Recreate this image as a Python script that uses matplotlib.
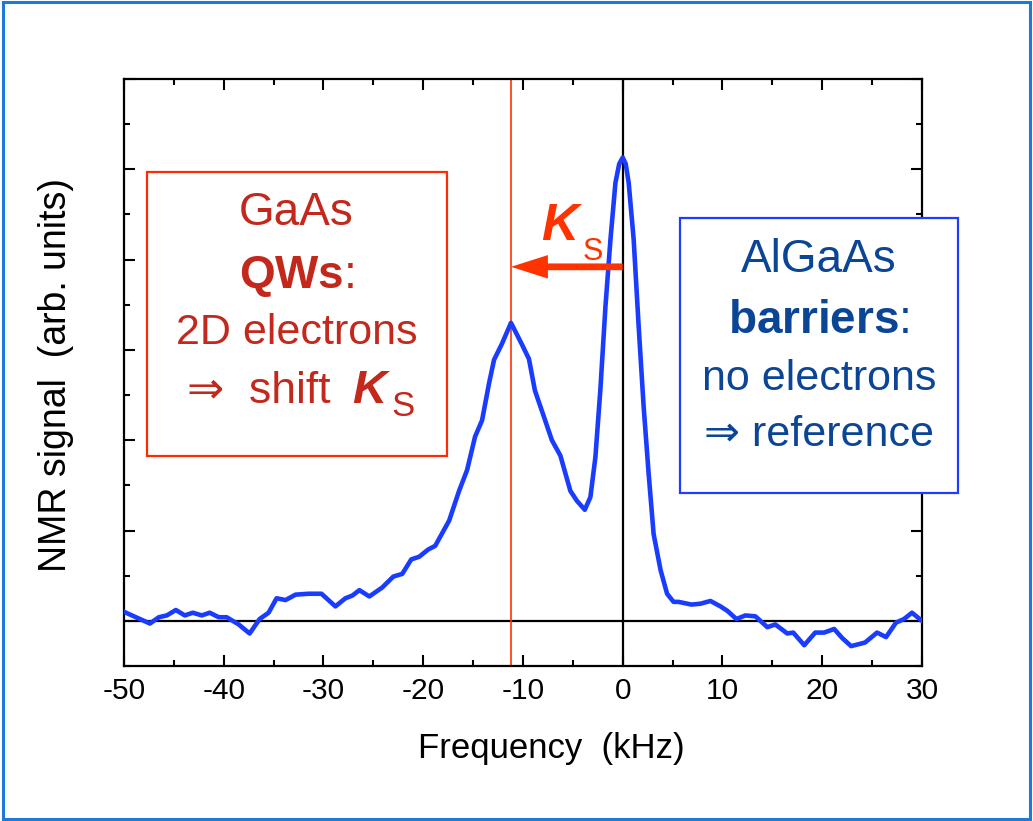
"""
NMR spectrum of GaAs quantum wells / AlGaAs barriers, showing the Knight shift K_S.
"""

import matplotlib
matplotlib.use("Agg")
import matplotlib.pyplot as plt
from matplotlib.patches import Rectangle
from matplotlib.ticker import MultipleLocator

plt.rcParams["font.family"] = ["Liberation Sans", "DejaVu Sans"]
plt.rcParams["axes.unicode_minus"] = False
plt.rcParams["mathtext.fontset"] = "custom"
plt.rcParams["mathtext.rm"] = "Liberation Sans"
plt.rcParams["mathtext.bf"] = "Liberation Sans:bold"

# Spectrum (kHz, arb. units)
freq = [-50, -47.4, -46.5, -45.7, -44.8, -43.9, -43.1, -42.2, -41.4, -40.5,
        -39.7, -38.5, -37.4, -36.4, -35.5, -34.7, -33.8, -32.8, -31.5, -30.2,
        -28.8, -27.8, -27.1, -26.4, -25.4, -24.1, -23.0, -22.1, -21.2, -20.4,
        -19.5, -18.8, -17.4, -16.4, -15.6, -14.8, -14.1, -13.4, -12.9, -12.1,
        -11.2, -10.1, -9.4, -8.8, -7.9, -7.1, -6.25, -5.25, -4.6, -3.8,
        -3.24, -2.74, -2.24, -1.73, -1.23, -0.73, -0.35, 0, 0.3, 0.6,
        1.1, 1.6, 2.1, 2.6, 3.1, 3.8, 4.45, 5.1, 5.6, 6.9,
        7.8, 8.8, 9.8, 10.5, 11.4, 12.3, 13.3, 14.5, 15.3, 16.5,
        17.1, 18.2, 19.3, 20.2, 21.2, 22.0, 22.9, 24.3, 25.5, 26.4,
        27.4, 28.2, 29.0, 30]
signal = [0.10, -0.03, 0.04, 0.06, 0.12, 0.06, 0.09, 0.06, 0.09, 0.04,
          0.04, -0.04, -0.14, 0.02, 0.09, 0.25, 0.23, 0.29, 0.30, 0.30,
          0.16, 0.25, 0.28, 0.34, 0.27, 0.37, 0.49, 0.52, 0.68, 0.71,
          0.79, 0.83, 1.11, 1.44, 1.67, 2.04, 2.22, 2.63, 2.89, 3.07,
          3.30, 3.06, 2.90, 2.55, 2.26, 2.00, 1.83, 1.44, 1.33, 1.23,
          1.37, 1.81, 2.56, 3.48, 4.22, 4.85, 5.06, 5.13, 5.06, 4.85,
          4.22, 3.26, 2.37, 1.63, 0.96, 0.56, 0.30, 0.21, 0.21, 0.18,
          0.19, 0.22, 0.16, 0.11, 0.02, 0.06, 0.05, -0.07, -0.04, -0.14,
          -0.13, -0.27, -0.13, -0.13, -0.09, -0.19, -0.28, -0.24, -0.13, -0.18,
          -0.02, 0.02, 0.09, 0.0]

qw_peak = -11.2      # GaAs QW line (kHz)
ref_peak = 0.0       # AlGaAs reference line (kHz)
xticks = [-50, -40, -30, -20, -10, 0, 10, 20, 30]

red_txt = "#c3281c"
red_line = "#ff3300"
blue_txt = "#0a4596"
blue_line = "#1f3dff"

fig = plt.figure(figsize=(10.33, 8.21), dpi=100)
ax = fig.add_axes([0.12, 0.1888, 0.7725, 0.715])

ax.axhline(0, color="black", lw=1.6, zorder=2)
ax.axvline(ref_peak, color="black", lw=1.6, zorder=2)
ax.axvline(qw_peak, color=red_line, lw=1.2, zorder=2)
ax.plot(freq, signal, color="#1a3cff", lw=3.3, solid_joinstyle="round", zorder=3)

ax.set_xlim(-50, 30)
ax.set_ylim(-0.5, 6)
ax.set_xticks(xticks)
ax.xaxis.set_minor_locator(MultipleLocator(5))
ax.yaxis.set_major_locator(MultipleLocator(1))
ax.yaxis.set_minor_locator(MultipleLocator(0.5))
ax.tick_params(which="both", direction="in", top=True, right=True, width=1.5)
ax.tick_params(which="major", length=8, labelsize=21.5, pad=8)
ax.tick_params(which="minor", length=4.5)
ax.tick_params(axis="y", labelleft=False)
for sp in ax.spines.values():
    sp.set_linewidth(1.6)

fig.text(551 / 1033, 1 - 748 / 821, "Frequency  (kHz)", fontsize=25,
         ha="center", va="center")
fig.text(56 / 1033, 1 - 375 / 821, "NMR signal  (arb. units)", fontsize=27,
         rotation=90, ha="center", va="center")

# Knight shift arrow
ax.arrow(ref_peak, 3.92, qw_peak - ref_peak, 0, width=0.075, head_width=0.26,
         head_length=3.7, length_includes_head=True, color=red_line, lw=0, zorder=4)
ax.text(-8.2, 4.22, "K", fontsize=37, fontweight="bold", fontstyle="italic",
        color=red_line, ha="left", va="baseline")
ax.text(-4.0, 4.0, "S", fontsize=22, color=red_line, ha="left", va="baseline")

# GaAs box
ax.add_patch(Rectangle((-47.7, 1.82), 30.1, 3.15, fill=True, facecolor="white",
                       edgecolor="#ff2a00", lw=1.6, clip_on=False, zorder=5))
ax.text(-32.7, 4.38, "GaAs", fontsize=33, color=red_txt, ha="center",
        va="baseline", zorder=6)
ax.text(-32.7, 3.69, r"$\mathbf{QWs}$:", fontsize=33, color=red_txt,
        ha="center", va="baseline", zorder=6)
ax.text(-32.7, 3.07, "2D electrons", fontsize=31, color=red_txt, ha="center",
        va="baseline", zorder=6)
ax.text(-29.3, 2.41, "\u21d2  shift", fontsize=32, color=red_txt, ha="right",
        va="baseline", zorder=6)
ax.text(-27.1, 2.41, "K", fontsize=34, fontweight="bold", fontstyle="italic",
        color=red_txt, ha="left", va="baseline", zorder=6)
ax.text(-23.2, 2.27, "S", fontsize=25, color=red_txt, ha="left",
        va="baseline", zorder=6)

# AlGaAs box
ax.add_patch(Rectangle((5.7, 1.42), 27.9, 3.04, fill=True, facecolor="white",
                       edgecolor=blue_line, lw=1.6, clip_on=False, zorder=5))
ax.text(19.65, 3.86, "AlGaAs", fontsize=33, color=blue_txt, ha="center",
        va="baseline", zorder=6)
ax.text(19.65, 3.19, r"$\mathbf{barriers}$:", fontsize=33, color=blue_txt,
        ha="center", va="baseline", zorder=6)
ax.text(19.65, 2.56, "no electrons", fontsize=31, color=blue_txt, ha="center",
        va="baseline", zorder=6)
ax.text(19.65, 1.94, "\u21d2 reference", fontsize=31, color=blue_txt,
        ha="center", va="baseline", zorder=6)

# outer frame
fig.add_artist(Rectangle((0.003, 0.003), 0.994, 0.994, transform=fig.transFigure,
                         fill=False, edgecolor="#1e7ad8", lw=2.2))

fig.savefig("out.png", dpi=100)
